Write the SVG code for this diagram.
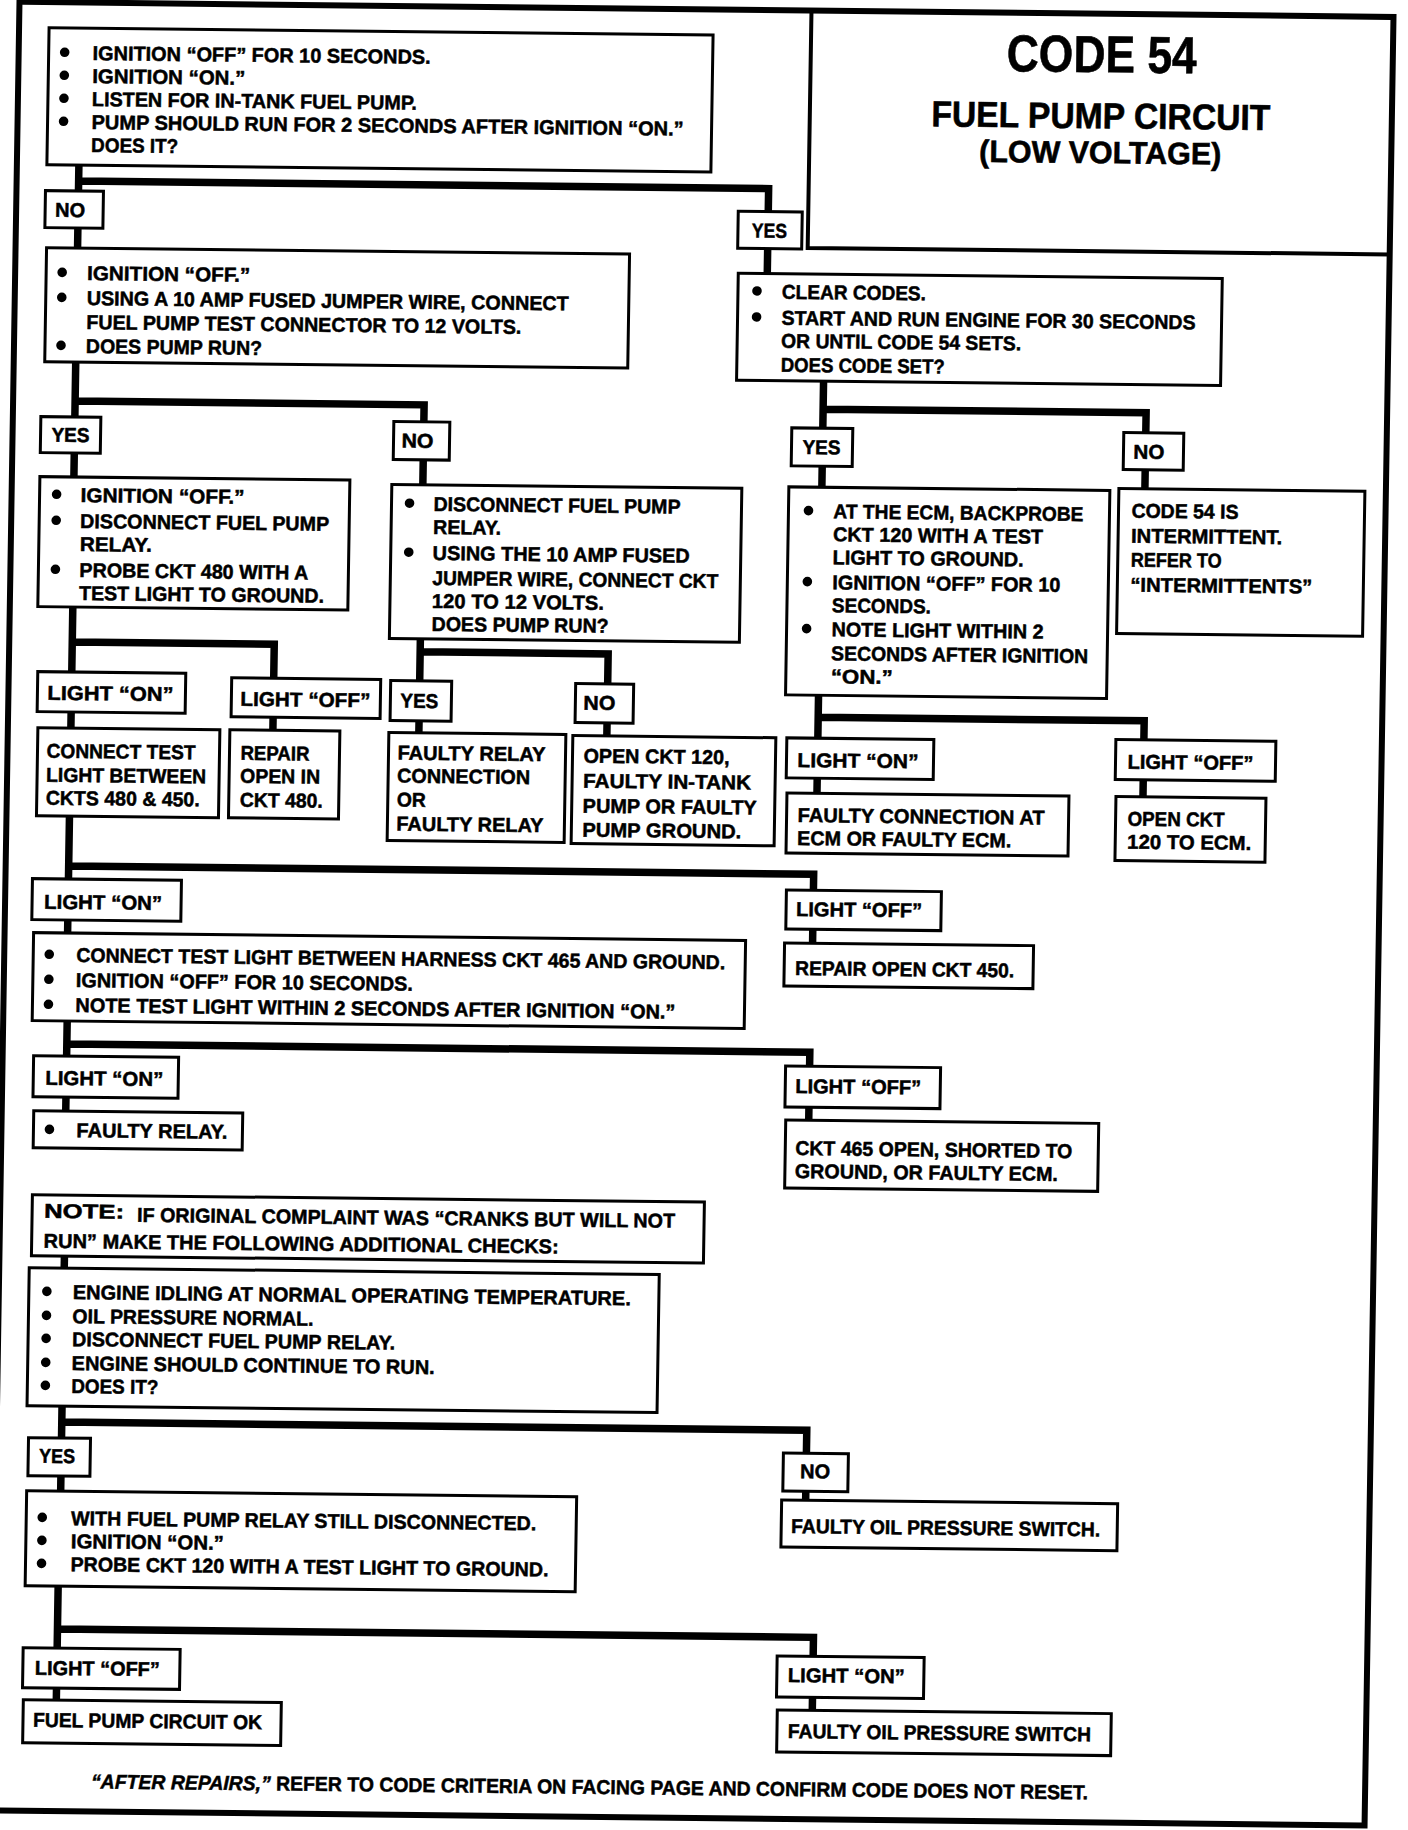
<svg xmlns="http://www.w3.org/2000/svg" width="1408" height="1830" viewBox="0 0 1408 1830">
<style>
.b{fill:#fff;stroke:#000;stroke-width:3}
.c{fill:none;stroke:#000;stroke-width:7.5;stroke-linejoin:miter}
.f{fill:none;stroke:#000;stroke-width:6}
.tl{fill:none;stroke:#000;stroke-width:4}
.t{font-family:"Liberation Sans",Arial,sans-serif;font-weight:bold;font-size:20px;fill:#000;stroke:#000;stroke-width:0.5}
.h{font-family:"Liberation Sans",Arial,sans-serif;font-weight:bold;fill:#000;text-anchor:middle;stroke:#000;stroke-width:0.6}
.d{fill:#000}
</style>
<rect width="1408" height="1830" fill="#fff"/>
<g transform="matrix(1 0.011 -0.016 1 14.64 -7.74)">
<g id="frame">
<rect class="f" x="5" y="9.5" width="1374" height="1808.5"/>
<path class="tl" d="M797,10 V247 H1379"/>
</g>
<g id="title">
<text class="h" x="1088" y="68" font-size="52" textLength="190" lengthAdjust="spacingAndGlyphs">CODE 54</text>
<text class="h" x="1088" y="124" font-size="36" textLength="339" lengthAdjust="spacingAndGlyphs">FUEL PUMP CIRCUIT</text>
<text class="h" x="1088" y="159" font-size="31" textLength="242" lengthAdjust="spacingAndGlyphs">(LOW VOLTAGE)</text>
</g>
<g id="connectors">
<path class="c" d="M67,172 V255 M67,188 H757 V273"/>
<path class="c" d="M67,369 V484 M67,408 H416 V488"/>
<path class="c" d="M68,614 V735 M68,649 H270 V735"/>
<path class="c" d="M416,642 V736 M416,655 H604 V737"/>
<path class="c" d="M815,380 V486 M815,408 H1138 V484"/>
<path class="c" d="M815,694 V792 M815,716 H1141 V792"/>
<path class="c" d="M68,823 V940 M68,873 H813 V942"/>
<path class="c" d="M69,1028 V1118 M69,1051 H812 V1119"/>
<path class="c" d="M70,1263 V1275"/>
<path class="c" d="M70,1413 V1498 M70,1429 H815 V1499"/>
<path class="c" d="M69,1593 V1707 M69,1636 H825 V1709"/>
</g>
<g id="n1">
<rect class="b" x="35" y="35" width="664" height="137"/>
<circle class="d" cx="51" cy="59.5" r="4.8"/><circle class="d" cx="51" cy="82.5" r="4.8"/><circle class="d" cx="51" cy="105.5" r="4.8"/><circle class="d" cx="51" cy="128.5" r="4.8"/>
<text class="t" x="79" y="67" textLength="338" lengthAdjust="spacingAndGlyphs">IGNITION “OFF” FOR 10 SECONDS.</text>
<text class="t" x="79" y="90" textLength="153" lengthAdjust="spacingAndGlyphs">IGNITION “ON.”</text>
<text class="t" x="79" y="113" textLength="325" lengthAdjust="spacingAndGlyphs">LISTEN FOR IN-TANK FUEL PUMP.</text>
<text class="t" x="79" y="136" textLength="592" lengthAdjust="spacingAndGlyphs">PUMP SHOULD RUN FOR 2 SECONDS AFTER  IGNITION “ON.”</text>
<text class="t" x="79" y="159" textLength="87" lengthAdjust="spacingAndGlyphs">DOES IT?</text>
</g>
<g id="no1"><rect class="b" x="34" y="198" width="58" height="37"/><text class="t" x="44" y="224" textLength="30" lengthAdjust="spacingAndGlyphs">NO</text></g>
<g id="yes1"><rect class="b" x="727" y="211" width="64" height="37"/><text class="t" x="741" y="237" textLength="35" lengthAdjust="spacingAndGlyphs">YES</text></g>
<g id="n2">
<rect class="b" x="36" y="255" width="583" height="114"/>
<circle class="d" cx="52" cy="279.5" r="4.8"/><circle class="d" cx="52" cy="304.5" r="4.8"/><circle class="d" cx="52" cy="352.5" r="4.8"/>
<text class="t" x="77" y="287" textLength="163" lengthAdjust="spacingAndGlyphs">IGNITION “OFF.”</text>
<text class="t" x="77" y="312" textLength="482" lengthAdjust="spacingAndGlyphs">USING A 10 AMP FUSED JUMPER WIRE, CONNECT</text>
<text class="t" x="77" y="336" textLength="435" lengthAdjust="spacingAndGlyphs">FUEL PUMP TEST CONNECTOR TO 12 VOLTS.</text>
<text class="t" x="77" y="360" textLength="176" lengthAdjust="spacingAndGlyphs">DOES PUMP RUN?</text>
</g>
<g id="n3">
<rect class="b" x="728" y="273" width="484" height="107"/>
<circle class="d" cx="747" cy="290.5" r="4.8"/><circle class="d" cx="747" cy="316.5" r="4.8"/>
<text class="t" x="772" y="298" textLength="144" lengthAdjust="spacingAndGlyphs">CLEAR CODES.</text>
<text class="t" x="772" y="324" textLength="414" lengthAdjust="spacingAndGlyphs">START AND RUN ENGINE FOR 30 SECONDS</text>
<text class="t" x="772" y="347" textLength="240" lengthAdjust="spacingAndGlyphs">OR UNTIL CODE 54 SETS.</text>
<text class="t" x="772" y="371" textLength="164" lengthAdjust="spacingAndGlyphs">DOES CODE SET?</text>
</g>
<g id="yes2"><rect class="b" x="33" y="424" width="60" height="36"/><text class="t" x="44" y="449" textLength="38" lengthAdjust="spacingAndGlyphs">YES</text></g>
<g id="no2"><rect class="b" x="386" y="425" width="56" height="38"/><text class="t" x="394" y="451" textLength="32" lengthAdjust="spacingAndGlyphs">NO</text></g>
<g id="n4">
<rect class="b" x="33" y="484" width="310" height="130"/>
<circle class="d" cx="50" cy="501.5" r="4.8"/><circle class="d" cx="50" cy="527.5" r="4.8"/><circle class="d" cx="50" cy="576.5" r="4.8"/>
<text class="t" x="74" y="509" textLength="164" lengthAdjust="spacingAndGlyphs">IGNITION “OFF.”</text>
<text class="t" x="74" y="535" textLength="249" lengthAdjust="spacingAndGlyphs">DISCONNECT FUEL PUMP</text>
<text class="t" x="74" y="558" textLength="72" lengthAdjust="spacingAndGlyphs">RELAY.</text>
<text class="t" x="74" y="584" textLength="229" lengthAdjust="spacingAndGlyphs">PROBE CKT 480 WITH A</text>
<text class="t" x="74" y="607" textLength="245" lengthAdjust="spacingAndGlyphs">TEST LIGHT TO GROUND.</text>
</g>
<g id="n5">
<rect class="b" x="385" y="488" width="350" height="154"/>
<circle class="d" cx="403" cy="506.5" r="4.8"/><circle class="d" cx="403" cy="555.5" r="4.8"/>
<text class="t" x="427" y="514" textLength="247" lengthAdjust="spacingAndGlyphs">DISCONNECT FUEL PUMP</text>
<text class="t" x="427" y="537" textLength="68" lengthAdjust="spacingAndGlyphs">RELAY.</text>
<text class="t" x="427" y="563" textLength="257" lengthAdjust="spacingAndGlyphs">USING THE 10 AMP FUSED</text>
<text class="t" x="427" y="588" textLength="286" lengthAdjust="spacingAndGlyphs">JUMPER WIRE, CONNECT CKT</text>
<text class="t" x="427" y="611" textLength="172" lengthAdjust="spacingAndGlyphs">120 TO 12 VOLTS.</text>
<text class="t" x="427" y="634" textLength="177" lengthAdjust="spacingAndGlyphs">DOES PUMP RUN?</text>
</g>
<g id="on1"><rect class="b" x="34" y="679" width="148" height="40"/><text class="t" x="44" y="707" textLength="126" lengthAdjust="spacingAndGlyphs">LIGHT “ON”</text></g>
<g id="off1"><rect class="b" x="228" y="683" width="149" height="39"/><text class="t" x="237" y="711" textLength="130" lengthAdjust="spacingAndGlyphs">LIGHT “OFF”</text></g>
<g id="nC">
<rect class="b" x="35" y="735" width="182" height="88"/>
<text class="t" x="44" y="765" textLength="149" lengthAdjust="spacingAndGlyphs">CONNECT TEST</text>
<text class="t" x="44" y="789" textLength="160" lengthAdjust="spacingAndGlyphs">LIGHT BETWEEN</text>
<text class="t" x="44" y="812" textLength="154" lengthAdjust="spacingAndGlyphs">CKTS 480 &amp; 450.</text>
</g>
<g id="nD">
<rect class="b" x="227" y="735" width="110" height="88"/>
<text class="t" x="238" y="765" textLength="69" lengthAdjust="spacingAndGlyphs">REPAIR</text>
<text class="t" x="238" y="788" textLength="80" lengthAdjust="spacingAndGlyphs">OPEN IN</text>
<text class="t" x="238" y="812" textLength="83" lengthAdjust="spacingAndGlyphs">CKT 480.</text>
</g>
<g id="yes3"><rect class="b" x="387" y="684" width="61" height="40"/><text class="t" x="397" y="711" textLength="38" lengthAdjust="spacingAndGlyphs">YES</text></g>
<g id="no3"><rect class="b" x="572" y="685" width="58" height="39"/><text class="t" x="580" y="711" textLength="32" lengthAdjust="spacingAndGlyphs">NO</text></g>
<g id="nE">
<rect class="b" x="386" y="736" width="177" height="108"/>
<text class="t" x="395" y="763" textLength="148" lengthAdjust="spacingAndGlyphs">FAULTY RELAY</text>
<text class="t" x="395" y="786" textLength="133" lengthAdjust="spacingAndGlyphs">CONNECTION</text>
<text class="t" x="395" y="810" textLength="29" lengthAdjust="spacingAndGlyphs">OR</text>
<text class="t" x="395" y="834" textLength="147" lengthAdjust="spacingAndGlyphs">FAULTY RELAY</text>
</g>
<g id="nF">
<rect class="b" x="570" y="737" width="203" height="108"/>
<text class="t" x="581" y="764" textLength="146" lengthAdjust="spacingAndGlyphs">OPEN CKT 120,</text>
<text class="t" x="581" y="789" textLength="168" lengthAdjust="spacingAndGlyphs">FAULTY IN-TANK</text>
<text class="t" x="581" y="814" textLength="174" lengthAdjust="spacingAndGlyphs">PUMP OR FAULTY</text>
<text class="t" x="581" y="838" textLength="159" lengthAdjust="spacingAndGlyphs">PUMP GROUND.</text>
</g>
<g id="yes4"><rect class="b" x="784" y="427" width="61" height="38"/><text class="t" x="795" y="453" textLength="38" lengthAdjust="spacingAndGlyphs">YES</text></g>
<g id="no4"><rect class="b" x="1116" y="428" width="60" height="37"/><text class="t" x="1126" y="454" textLength="31" lengthAdjust="spacingAndGlyphs">NO</text></g>
<g id="nG">
<rect class="b" x="782" y="486" width="321" height="208"/>
<circle class="d" cx="802" cy="509.5" r="4.8"/><circle class="d" cx="802" cy="580.5" r="4.8"/><circle class="d" cx="802" cy="627.5" r="4.8"/>
<text class="t" x="827" y="517" textLength="250" lengthAdjust="spacingAndGlyphs">AT THE ECM, BACKPROBE</text>
<text class="t" x="827" y="540" textLength="210" lengthAdjust="spacingAndGlyphs">CKT 120 WITH A TEST</text>
<text class="t" x="827" y="563" textLength="191" lengthAdjust="spacingAndGlyphs">LIGHT TO GROUND.</text>
<text class="t" x="827" y="588" textLength="228" lengthAdjust="spacingAndGlyphs">IGNITION “OFF” FOR 10</text>
<text class="t" x="827" y="611" textLength="99" lengthAdjust="spacingAndGlyphs">SECONDS.</text>
<text class="t" x="827" y="635" textLength="212" lengthAdjust="spacingAndGlyphs">NOTE LIGHT WITHIN 2</text>
<text class="t" x="827" y="659" textLength="257" lengthAdjust="spacingAndGlyphs">SECONDS AFTER IGNITION</text>
<text class="t" x="827" y="682" textLength="62" lengthAdjust="spacingAndGlyphs">“ON.”</text>
</g>
<g id="nH">
<rect class="b" x="1112" y="484" width="246" height="145"/>
<text class="t" x="1125" y="513" textLength="107" lengthAdjust="spacingAndGlyphs">CODE 54 IS</text>
<text class="t" x="1125" y="538" textLength="151" lengthAdjust="spacingAndGlyphs">INTERMITTENT.</text>
<text class="t" x="1125" y="562" textLength="91" lengthAdjust="spacingAndGlyphs">REFER TO</text>
<text class="t" x="1125" y="587" textLength="182" lengthAdjust="spacingAndGlyphs">“INTERMITTENTS”</text>
</g>
<g id="on2"><rect class="b" x="784" y="737" width="147" height="40"/><text class="t" x="795" y="766" textLength="121" lengthAdjust="spacingAndGlyphs">LIGHT “ON”</text></g>
<g id="off2"><rect class="b" x="1113" y="735" width="160" height="40"/><text class="t" x="1125" y="764" textLength="126" lengthAdjust="spacingAndGlyphs">LIGHT “OFF”</text></g>
<g id="nI">
<rect class="b" x="785" y="792" width="282" height="60"/>
<text class="t" x="796" y="821" textLength="247" lengthAdjust="spacingAndGlyphs">FAULTY CONNECTION AT</text>
<text class="t" x="796" y="844" textLength="214" lengthAdjust="spacingAndGlyphs">ECM OR FAULTY ECM.</text>
</g>
<g id="nJ">
<rect class="b" x="1114" y="792" width="150" height="64"/>
<text class="t" x="1126" y="821" textLength="97" lengthAdjust="spacingAndGlyphs">OPEN CKT</text>
<text class="t" x="1126" y="844" textLength="124" lengthAdjust="spacingAndGlyphs">120 TO ECM.</text>
</g>
<g id="on3"><rect class="b" x="32" y="886" width="149" height="41"/><text class="t" x="44" y="916" textLength="118" lengthAdjust="spacingAndGlyphs">LIGHT “ON”</text></g>
<g id="off3"><rect class="b" x="786" y="889" width="155" height="39"/><text class="t" x="796" y="915" textLength="126" lengthAdjust="spacingAndGlyphs">LIGHT “OFF”</text></g>
<g id="nM">
<rect class="b" x="34" y="940" width="712" height="88"/>
<circle class="d" cx="50" cy="961.5" r="4.8"/><circle class="d" cx="50" cy="986.5" r="4.8"/><circle class="d" cx="50" cy="1011.5" r="4.8"/>
<text class="t" x="77" y="969" textLength="649" lengthAdjust="spacingAndGlyphs">CONNECT TEST LIGHT BETWEEN HARNESS CKT 465 AND GROUND.</text>
<text class="t" x="77" y="994" textLength="337" lengthAdjust="spacingAndGlyphs">IGNITION “OFF” FOR 10 SECONDS.</text>
<text class="t" x="77" y="1019" textLength="600" lengthAdjust="spacingAndGlyphs">NOTE TEST LIGHT WITHIN 2 SECONDS AFTER IGNITION “ON.”</text>
</g>
<g id="nN"><rect class="b" x="785" y="942" width="249" height="43"/><text class="t" x="796" y="974" textLength="219" lengthAdjust="spacingAndGlyphs">REPAIR OPEN CKT 450.</text></g>
<g id="on4"><rect class="b" x="36" y="1063" width="145" height="41"/><text class="t" x="48" y="1092" textLength="118" lengthAdjust="spacingAndGlyphs">LIGHT “ON”</text></g>
<g id="off4"><rect class="b" x="788" y="1065" width="155" height="41"/><text class="t" x="798" y="1092" textLength="126" lengthAdjust="spacingAndGlyphs">LIGHT “OFF”</text></g>
<g id="nQ">
<rect class="b" x="37" y="1118" width="209" height="37"/>
<circle class="d" cx="53" cy="1136.5" r="4.8"/>
<text class="t" x="80" y="1144" textLength="151" lengthAdjust="spacingAndGlyphs">FAULTY RELAY.</text>
</g>
<g id="nR">
<rect class="b" x="789" y="1119" width="313" height="68"/>
<text class="t" x="799" y="1154" textLength="277" lengthAdjust="spacingAndGlyphs">CKT 465 OPEN, SHORTED TO</text>
<text class="t" x="799" y="1177" textLength="263" lengthAdjust="spacingAndGlyphs">GROUND, OR FAULTY ECM.</text>
</g>
<g id="nS">
<rect class="b" x="37" y="1202" width="672" height="61"/>
<text class="t" x="49" y="1225" font-size="24" textLength="80" lengthAdjust="spacingAndGlyphs">NOTE:</text>
<text class="t" x="142" y="1228" textLength="538" lengthAdjust="spacingAndGlyphs">IF ORIGINAL COMPLAINT WAS “CRANKS BUT WILL NOT</text>
<text class="t" x="49" y="1255" textLength="515" lengthAdjust="spacingAndGlyphs">RUN” MAKE THE FOLLOWING ADDITIONAL CHECKS:</text>
</g>
<g id="nT">
<rect class="b" x="35" y="1275" width="630" height="138"/>
<circle class="d" cx="53" cy="1298.5" r="4.8"/><circle class="d" cx="53" cy="1322.5" r="4.8"/><circle class="d" cx="53" cy="1345.5" r="4.8"/><circle class="d" cx="53" cy="1369.5" r="4.8"/><circle class="d" cx="53" cy="1392.5" r="4.8"/>
<text class="t" x="79" y="1306" textLength="558" lengthAdjust="spacingAndGlyphs">ENGINE IDLING AT NORMAL OPERATING TEMPERATURE.</text>
<text class="t" x="79" y="1330" textLength="241" lengthAdjust="spacingAndGlyphs">OIL PRESSURE NORMAL.</text>
<text class="t" x="79" y="1353" textLength="323" lengthAdjust="spacingAndGlyphs">DISCONNECT FUEL PUMP RELAY.</text>
<text class="t" x="79" y="1377" textLength="363" lengthAdjust="spacingAndGlyphs">ENGINE SHOULD CONTINUE TO RUN.</text>
<text class="t" x="79" y="1400" textLength="87" lengthAdjust="spacingAndGlyphs">DOES IT?</text>
</g>
<g id="yes5"><rect class="b" x="37" y="1445" width="62" height="38"/><text class="t" x="48" y="1470" textLength="36" lengthAdjust="spacingAndGlyphs">YES</text></g>
<g id="no5"><rect class="b" x="792" y="1452" width="65" height="38"/><text class="t" x="809" y="1477" textLength="30" lengthAdjust="spacingAndGlyphs">NO</text></g>
<g id="nW"><rect class="b" x="791" y="1499" width="336" height="47"/><text class="t" x="801" y="1532" textLength="309" lengthAdjust="spacingAndGlyphs">FAULTY OIL PRESSURE SWITCH.</text></g>
<g id="nX">
<rect class="b" x="36" y="1498" width="550" height="95"/>
<circle class="d" cx="52" cy="1524.5" r="4.8"/><circle class="d" cx="52" cy="1547.5" r="4.8"/><circle class="d" cx="52" cy="1570.5" r="4.8"/>
<text class="t" x="81" y="1532" textLength="465" lengthAdjust="spacingAndGlyphs">WITH FUEL PUMP RELAY STILL DISCONNECTED.</text>
<text class="t" x="81" y="1555" textLength="153" lengthAdjust="spacingAndGlyphs">IGNITION “ON.”</text>
<text class="t" x="81" y="1578" textLength="478" lengthAdjust="spacingAndGlyphs">PROBE CKT 120 WITH A TEST LIGHT TO GROUND.</text>
</g>
<g id="off5"><rect class="b" x="35" y="1655" width="157" height="40"/><text class="t" x="47" y="1682" textLength="125" lengthAdjust="spacingAndGlyphs">LIGHT “OFF”</text></g>
<g id="on5"><rect class="b" x="789" y="1655" width="147" height="41"/><text class="t" x="800" y="1681" textLength="117" lengthAdjust="spacingAndGlyphs">LIGHT “ON”</text></g>
<g id="nAA"><rect class="b" x="36" y="1707" width="258" height="43"/><text class="t" x="46" y="1734" textLength="229" lengthAdjust="spacingAndGlyphs">FUEL PUMP CIRCUIT OK</text></g>
<g id="nAB"><rect class="b" x="790" y="1709" width="334" height="42"/><text class="t" x="801" y="1737" textLength="303" lengthAdjust="spacingAndGlyphs">FAULTY OIL PRESSURE SWITCH</text></g>
<g id="footer">
<text class="t" x="105" y="1795" textLength="997" lengthAdjust="spacingAndGlyphs"><tspan font-style="italic">“AFTER REPAIRS,”</tspan> REFER TO CODE CRITERIA ON FACING PAGE AND CONFIRM CODE DOES NOT RESET.</text>
</g>
</g>
</svg>
